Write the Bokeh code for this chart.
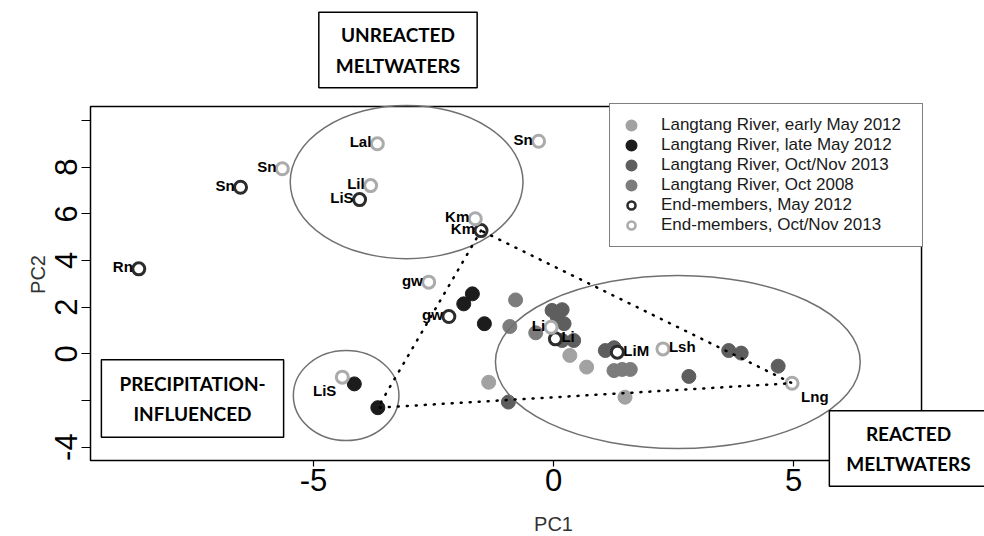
from bokeh.plotting import figure
from bokeh.models import ColumnDataSource, Label, Legend, LegendItem, FixedTicker
from bokeh.core.properties import value
from bokeh.embed import file_html
from bokeh.resources import INLINE

# ---------------- data ----------------
early_x = [-1.35, 0.34, 0.69, 1.49]
early_y = [-1.22, -0.07, -0.57, -1.86]

late_x = [-1.69, -1.87, -1.44, -4.15, -3.66]
late_y = [2.57, 2.14, 1.29, -1.29, -2.31]

oct13_x = [-0.03, 0.18, 0.08, 0.22, 0.18, 0.42, 1.08, 1.26, 2.82, 3.65, 3.91, 4.68, -0.94]
oct13_y = [1.86, 1.89, 1.57, 1.29, 0.57, 0.57, 0.14, 0.26, -0.97, 0.14, 0.03, -0.53, -2.07]

oct08_x = [-0.79, -0.91, -0.37, 1.26, 1.43, 1.60]
oct08_y = [2.31, 1.17, 0.90, -0.72, -0.67, -0.67]

em12_names = ["Sn", "Rn", "LiS", "Km", "gw", "Li", "LiM"]
em12_x = [-6.52, -8.64, -4.04, -1.51, -2.18, 0.04, 1.33]
em12_y = [7.14, 3.64, 6.61, 5.28, 1.60, 0.64, 0.07]

em13_names = ["Sn", "Lal", "Lil", "Sn", "Km", "gw", "LiS", "Li", "Lsh", "Lng"]
em13_x = [-5.65, -3.67, -3.81, -0.31, -1.63, -2.60, -4.40, -0.05, 2.28, 4.97]
em13_y = [7.93, 9.00, 7.21, 9.11, 5.79, 3.07, -1.00, 1.14, 0.21, -1.26]

# ellipses grouping samples (centre, full width, full height)
ell_x = [-3.06, -4.32, 2.59]
ell_y = [7.36, -1.79, -0.35]
ell_w = [4.85, 2.20, 7.60]
ell_h = [6.57, 3.86, 7.42]

series_labels = ["Langtang River, early May 2012", "Langtang River, late May 2012",
                 "Langtang River, Oct/Nov 2013", "Langtang River, Oct 2008",
                 "End-members, May 2012", "End-members, Oct/Nov 2013"]

x_ticks = [-5, 0, 5]
y_ticks = [-4, -2, 0, 2, 4, 6, 8, 10]
y_tick_labels = {-4: "-4", -2: "", 0: "0", 2: "2", 4: "4", 6: "6", 8: "8", 10: ""}
x_tick_labels = {-5: "-5", 0: "0", 5: "5"}

# ---------------- layout / styles ----------------
X_RANGE = (-11.521, 8.979)      # whole canvas
Y_RANGE = (-7.831, 15.143)
BOX_L, BOX_R, BOX_B, BOX_T = -9.646, 7.667, -4.573, 10.60   # the plot box

C_EARLY = "#a2a2a2"
C_LATE = "#1c1c1c"
C_OCT13 = "#5e5e5e"
C_OCT08 = "#7c7c7c"
C_EM12 = "#2c2c2c"
C_EM13 = "#ababab"
C_ELL = "#707070"
FONT = "Liberation Sans"

em12_side = ["ul", "ul", "ul", "ul", "ul", "ur", "ur"]
em13_side = ["ul", "ul", "ul", "ul", "ul", "ul", "ll", "ul", "ur", "lr"]
SIDE = {"ul": ("right", "alphabetic", -6, -2), "ur": ("left", "alphabetic", 6, -2),
        "ll": ("right", "top", -6, 5), "lr": ("left", "top", 9, 5)}

p = figure(width=984, height=536, x_range=X_RANGE, y_range=Y_RANGE,
           output_backend="svg", toolbar_location=None)
p.min_border = 0
p.min_border_left = 0
p.min_border_right = 0
p.min_border_top = 0
p.min_border_bottom = 0
p.background_fill_color = "white"
p.border_fill_color = "white"
p.grid.visible = False
p.outline_line_color = None

xa = p.xaxis[0]
ya = p.yaxis[0]
xa.fixed_location = BOX_B
ya.fixed_location = BOX_L
xa.bounds = (-7.0, 7.0)
ya.bounds = (-4.2, 11.0)
for ax in (xa, ya):
    ax.axis_line_color = None
    ax.major_tick_line_color = "black"
    ax.major_tick_line_width = 1.2
    ax.major_tick_in = 0
    ax.minor_tick_line_color = None
    ax.major_label_text_font = FONT
    ax.major_label_text_font_size = "31px"
    ax.major_label_text_color = "black"
    ax.axis_label_text_font = FONT
    ax.axis_label_text_font_size = "20px"
    ax.axis_label_text_font_style = "normal"
    ax.axis_label_text_color = "#333333"

xa.ticker = FixedTicker(ticks=x_ticks)
ya.ticker = FixedTicker(ticks=y_ticks)
xa.major_label_overrides = x_tick_labels
ya.major_label_overrides = y_tick_labels
ya.major_label_orientation = "vertical"
xa.axis_label = "PC1"
ya.axis_label = "PC2"
xa.major_tick_out = 6
ya.major_tick_out = 9
xa.major_label_standoff = 3
ya.major_label_standoff = 4
xa.axis_label_standoff = 18
ya.axis_label_standoff = 4

# plot box
p.quad(left=[BOX_L], right=[BOX_R], bottom=[BOX_B], top=[BOX_T],
       fill_color=None, line_color="black", line_width=1.5)

# ---------------- points ----------------
FS = 14
p.scatter(early_x, early_y, size=FS, color=C_EARLY)
p.scatter(late_x, late_y, size=FS, color=C_LATE)
p.scatter(oct13_x, oct13_y, size=FS, color=C_OCT13)
p.scatter(oct08_x, oct08_y, size=FS, color=C_OCT08)
p.scatter(em12_x, em12_y, size=12, fill_color="white", line_color=C_EM12, line_width=3)
p.scatter(em13_x, em13_y, size=12, fill_color="white", line_color=C_EM13, line_width=3)

# ellipses
p.ellipse(ell_x, ell_y, width=ell_w, height=ell_h, fill_alpha=0, line_color=C_ELL, line_width=1.5)

# dotted mixing triangle between end-members (Km May 2012, precipitation sample, Lng)
tri_x = [em12_x[3], late_x[4], em13_x[9], em12_x[3]]
tri_y = [em12_y[3], late_y[4], em13_y[9], em12_y[3]]
p.line(tri_x, tri_y, line_color="black", line_width=2.5, line_dash="1 8", line_cap="round")

# point labels
def add_labels(names, xs, ys, sides):
    src = ColumnDataSource(dict(
        x=xs, y=ys, t=names,
        a=[SIDE[s][0] for s in sides], b=[SIDE[s][1] for s in sides],
        dx=[SIDE[s][2] for s in sides], dy=[SIDE[s][3] for s in sides]))
    p.text("x", "y", text="t", source=src, text_align="a", text_baseline="b",
           x_offset="dx", y_offset="dy", text_font=value(FONT), text_font_style="bold",
           text_font_size="15px", text_color="black")

add_labels(em12_names, em12_x, em12_y, em12_side)
add_labels(em13_names, em13_x, em13_y, em13_side)

# legend (glyph renderers used only for legend swatches; hidden in the plot)
leg_specs = [
    (early_x, early_y, dict(fill_color=C_EARLY, line_color=C_EARLY, line_width=4)),
    (late_x, late_y, dict(fill_color=C_LATE, line_color=C_LATE, line_width=4)),
    (oct13_x, oct13_y, dict(fill_color=C_OCT13, line_color=C_OCT13, line_width=4)),
    (oct08_x, oct08_y, dict(fill_color=C_OCT08, line_color=C_OCT08, line_width=4)),
    (em12_x, em12_y, dict(fill_color="white", line_color=C_EM12, line_width=2.6)),
    (em13_x, em13_y, dict(fill_color="white", line_color=C_EM13, line_width=2.6)),
]
items = []
for lab, (xs, ys, st) in zip(series_labels, leg_specs):
    r = p.scatter(xs[:1], ys[:1], size=8, visible=False, **st)
    items.append(LegendItem(label=lab, renderers=[r]))

legend = Legend(items=items, location=(609, 289), margin=0, padding=11, spacing=0,
                glyph_height=20, glyph_width=20, label_height=20, label_width=250,
                label_standoff=20, inactive_fill_alpha=0,
                label_text_font=FONT, label_text_font_size="17px", label_text_color="#1a1a1a",
                border_line_color="black", border_line_width=1.2,
                background_fill_color="white", background_fill_alpha=1)
p.add_layout(legend)

# annotation boxes
def box(x, y, text, pad):
    p.add_layout(Label(x=x, y=y, text=text, text_align="center", text_baseline="middle",
                       text_font="Lato", text_font_style="bold", text_font_size="19px",
                       text_line_height=1.32, text_color="black",
                       background_fill_color="white", border_line_color="black",
                       border_line_width=1.5, padding=pad))

box(-3.24, 13.02, "UNREACTED\nMELTWATERS", dict(left=17, right=17, top=11, bottom=11))
box(-7.521, -1.916, "PRECIPITATION-\nINFLUENCED", dict(left=18, right=18, top=12, bottom=12))
box(7.396, -4.06, "REACTED\nMELTWATERS", dict(left=17, right=17, top=11, bottom=11))

open("out.html", "w").write(file_html(p, INLINE))
